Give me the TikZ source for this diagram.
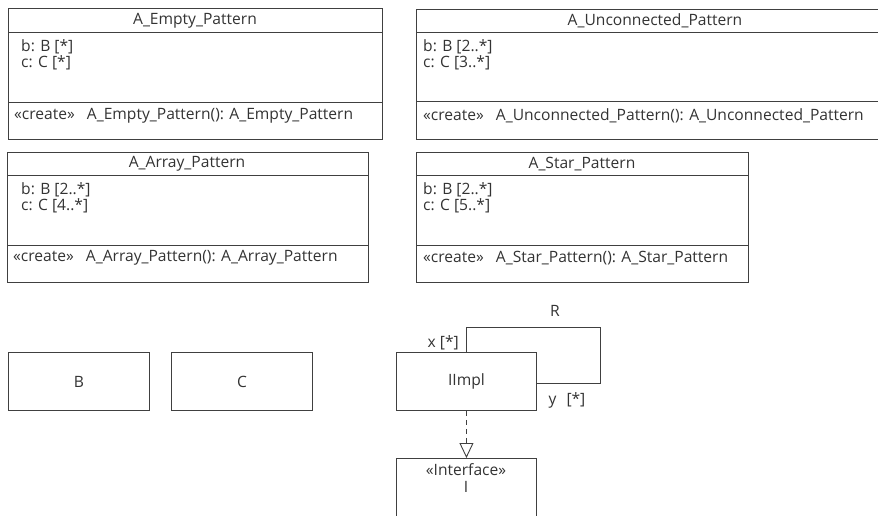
\documentclass[tikz,border=0pt]{standalone}
\usepackage{fontspec}
\setmainfont{Open Sans}
\usetikzlibrary{arrows.meta}

\tikzset{
  umlbox/.style={draw=black!75, line width=0.9pt, inner sep=0pt, anchor=north west},
  umltxt/.style={font=\fontsize{15.6}{16}\selectfont, text=black!80, inner sep=0pt},
  attr/.style={umltxt, anchor=north west, align=left},
  oper/.style={umltxt, anchor=west},
  sep/.style={draw=black!75, line width=0.9pt}
}

\begin{document}
\begin{tikzpicture}[x=1pt, y=-1pt, >={Triangle[open, length=15pt, width=14pt, line width=0.9pt]}]
\useasboundingbox (0,0) rectangle (878,515);
\clip (0,0) rectangle (878,515);

\node[umlbox, minimum width=374pt, minimum height=131pt] (empty) at (8,8) {};
\draw[sep] (8,32) -- (382,32);
\draw[sep] (8,102) -- (382,102);
\node[umltxt] (emptyT) at (195,21) {A\_Empty\_Pattern};
\node[attr] (emptyA) at (21,39) {b: B [*]\\c: C [*]};
\node[oper] (emptyO) at (14,116) {«create»\hspace{8pt} A\_Empty\_Pattern(): A\_Empty\_Pattern};

\node[umlbox, minimum width=478pt, minimum height=130pt] (uncon) at (416,9) {};
\draw[sep] (416,32) -- (894,32);
\draw[sep] (416,101) -- (894,101);
\node[umltxt] (unconT) at (655,21) {A\_Unconnected\_Pattern};
\node[attr] (unconA) at (423,39) {b: B [2..*]\\c: C [3..*]};
\node[oper] (unconO) at (423,116) {«create»\hspace{8pt} A\_Unconnected\_Pattern(): A\_Unconnected\_Pattern};

\node[umlbox, minimum width=361pt, minimum height=130pt] (array) at (7,152) {};
\draw[sep] (7,175) -- (368,175);
\draw[sep] (7,245) -- (368,245);
\node[umltxt] (arrayT) at (187,164) {A\_Array\_Pattern};
\node[attr] (arrayA) at (21,182) {b: B [2..*]\\c: C [4..*]};
\node[oper] (arrayO) at (13,258) {«create»\hspace{8pt} A\_Array\_Pattern(): A\_Array\_Pattern};

\node[umlbox, minimum width=332pt, minimum height=130pt] (star) at (416,152) {};
\draw[sep] (416,175) -- (748,175);
\draw[sep] (416,245) -- (748,245);
\node[umltxt] (starT) at (582,164) {A\_Star\_Pattern};
\node[attr] (starA) at (423,182) {b: B [2..*]\\c: C [5..*]};
\node[oper] (starO) at (423,258) {«create»\hspace{8pt} A\_Star\_Pattern(): A\_Star\_Pattern};

\node[umlbox, minimum width=141pt, minimum height=58pt] (b) at (8,352) {};
\node[umltxt] (bT) at (b.center) {B};
\node[umlbox, minimum width=141pt, minimum height=58pt] (c) at (171,352) {};
\node[umltxt] (cT) at (c.center) {C};

\node[umlbox, minimum width=140pt, minimum height=58pt] (impl) at (396,352) {};
\node[umltxt] (implT) at (impl.center) {IImpl};
\node[umlbox, minimum width=140pt, minimum height=80pt] (iface) at (396,458) {};
\node[umltxt] (ifaceS) at (466,470) {«Interface»};
\node[umltxt] (ifaceT) at (466,487) {I};

\coordinate (rTop) at (600,327);
\draw[sep] (impl.north) |- (rTop) |- ([yshift=-2pt]impl.east);
\node[umltxt] (rLbl) at (555,311) {R};
\node[umltxt, anchor=east] (xLbl) at (459,343) {x [*]};
\node[umltxt] (yLbl) at (567,400) {y\hspace{10pt}[*]};

\draw[sep, line width=1.6pt, dash pattern=on 5pt off 4pt, ->] (impl.south) -- (iface.north);
\end{tikzpicture}
\end{document}
